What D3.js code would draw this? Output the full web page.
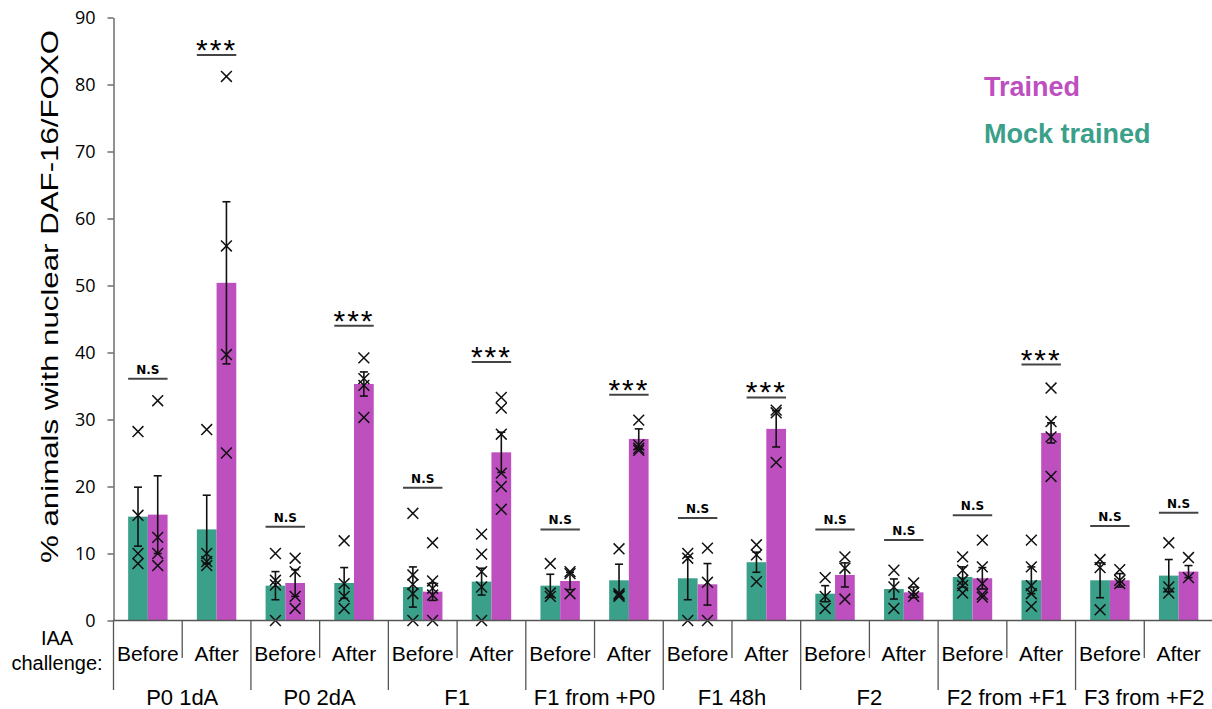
<!DOCTYPE html>
<html>
<head>
<meta charset="utf-8">
<script src="https://cdn.jsdelivr.net/npm/d3@7"></script>
<style>
    body { margin: 0; background: #fff; }
    svg text { font-family: "Liberation Sans", Arial, sans-serif; fill: #000; }
</style>
</head>
<body>
<svg id="chart"></svg>
<script>
// Groups (generations) and IAA challenge phase within each group
const groups = ['P0 1dA', 'P0 2dA', 'F1', 'F1 from +P0', 'F1 48h', 'F2', 'F2 from +F1', 'F3 from +F2'];
const phases = ['Before', 'After'];

// Mock trained: mean, error (SE) and individual replicates, one entry per group/phase
const mockMeans = [15.5, 13.6, 5.2, 5.6, 5.0, 5.8, 5.2, 6.0, 6.3, 8.7, 4.0, 4.7, 6.5, 6.0, 6.0, 6.7];
const mockErr   = [4.4, 5.1, 2.1, 2.3, 3.0, 2.0, 1.7, 2.4, 3.2, 1.5, 1.2, 1.5, 1.5, 2.0, 2.6, 2.4];
const mockPoints = [
    [28.2, 15.7, 10.0, 8.5], [28.5, 10.0, 8.8, 8.2],
    [10.0, 6.0, 5.3, 0], [11.9, 5.5, 3.6, 1.8],
    [16.0, 6.8, 5.4, 4.0, 0], [12.9, 9.9, 7.3, 5.0, 0],
    [8.5, 4.1, 3.6], [10.7, 4.0, 3.8, 3.6],
    [10.0, 9.3, 0], [11.3, 9.8, 5.8],
    [6.4, 3.6, 1.8], [7.5, 5.0, 1.8],
    [9.5, 7.5, 6.0, 5.2, 4.1], [12.0, 8.0, 5.2, 4.0, 2.1],
    [9.1, 7.9, 1.6], [11.6, 5.0, 4.1]
];

// Trained
const trainedMeans = [15.8, 50.4, 5.6, 35.3, 4.3, 25.1, 5.9, 27.1, 5.4, 28.6, 6.8, 4.2, 6.3, 28.0, 6.0, 7.3];
const trainedErr   = [5.8, 12.1, 2.0, 1.8, 1.3, 3.0, 1.3, 1.5, 3.1, 2.7, 1.8, 0.8, 1.6, 1.5, 1.0, 0.9];
const trainedPoints = [
    [32.8, 12.4, 10.0, 8.2], [81.2, 55.9, 39.7, 25.0],
    [9.3, 7.3, 3.6, 1.8], [39.2, 36.1, 35.1, 30.3],
    [11.6, 5.9, 4.8, 3.8, 0], [33.3, 31.7, 27.8, 22.0, 20.0, 16.6],
    [7.3, 7.0, 4.0], [29.9, 26.2, 25.7, 25.4],
    [10.8, 5.7, 0], [31.4, 31.0, 23.6],
    [9.5, 7.8, 3.2], [5.6, 4.2, 3.6],
    [12.0, 8.0, 5.5, 3.9, 3.5], [34.7, 29.7, 27.4, 21.5],
    [7.6, 6.0, 5.5], [9.4, 6.4]
];

// Significance annotations and the level (in %) of their bar
const sigLabels = ['N.S', '***', 'N.S', '***', 'N.S', '***', 'N.S', '***', 'N.S', '***', 'N.S', 'N.S', 'N.S', '***', 'N.S', 'N.S'];
const sigLevels = [36.1, 84.4, 14.0, 44.0, 19.8, 38.6, 13.6, 33.7, 15.3, 33.3, 13.6, 12.0, 15.7, 38.2, 14.1, 16.1];

const yTicks = [0, 10, 20, 30, 40, 50, 60, 70, 80, 90];
const series = ['Mock trained', 'Trained'];
const seriesColors = ['#3aa08a', '#be4fbf'];

class GroupedBarChart {
    constructor(_config) {
        this.config = {
            parentElement: _config.parentElement,
            containerWidth: _config.containerWidth || 1212,
            containerHeight: _config.containerHeight || 709,
            margin: { top: 17.5, bottom: 88.5, right: -1, left: 113.5 }
        }
        this.initVis();
    }

    initVis() {
        let vis = this;

        vis.width = vis.config.containerWidth - vis.config.margin.left - vis.config.margin.right;
        vis.height = vis.config.containerHeight - vis.config.margin.top - vis.config.margin.bottom;

        vis.svg = d3.select(vis.config.parentElement)
            .attr('width', vis.config.containerWidth)
            .attr('height', vis.config.containerHeight);

        vis.chart = vis.svg.append('g')
            .attr('transform', `translate(${vis.config.margin.left},${vis.config.margin.top})`);

        // one band per group/phase pair
        vis.categories = [];
        groups.forEach(g => phases.forEach(p => vis.categories.push({ group: g, phase: p })));
        vis.catKey = d => `${d.group}|${d.phase}`;

        vis.xScale = d3.scaleBand()
            .domain(vis.categories.map(vis.catKey))
            .range([0, vis.width]);

        vis.xSub = d3.scaleBand()
            .domain(series)
            .range([0, vis.xScale.bandwidth()])
            .paddingOuter(0.743);

        vis.yScale = d3.scaleLinear()
            .domain([0, 90])
            .range([vis.height, 0]);

        vis.colorScale = d3.scaleOrdinal().domain(series).range(seriesColors);
    }

    updateVis() {
        let vis = this;

        vis.rows = vis.categories.map((c, i) => ({
            key: vis.catKey(c),
            phase: c.phase,
            sig: sigLabels[i],
            sigLevel: sigLevels[i],
            bars: [
                { s: 'Mock trained', mean: mockMeans[i], err: mockErr[i], pts: mockPoints[i] },
                { s: 'Trained', mean: trainedMeans[i], err: trainedErr[i], pts: trainedPoints[i] }
            ]
        }));

        vis.renderVis();
    }

    renderVis() {
        let vis = this;
        const bw = vis.xSub.bandwidth();

        // Y axis
        const yAxis = d3.axisLeft(vis.yScale)
            .tickValues(yTicks)
            .tickSize(6)
            .tickSizeOuter(0)
            .tickPadding(12);
        const yAxisG = vis.chart.append('g').attr('class', 'axis y-axis').call(yAxis);
        yAxisG.select('.domain').attr('stroke', '#555').attr('stroke-width', 1.3);
        yAxisG.selectAll('.tick line').attr('stroke', '#555').attr('stroke-width', 1.3);
        yAxisG.selectAll('.tick text')
            .style('font-family', '"Open Sans", sans-serif')
            .attr('font-size', 18)
            .attr('fill', '#222');

        // y axis title (the original is horizontally stretched)
        vis.svg.append('text')
            .attr('transform', `translate(58,${(563 + 30) / 2}) rotate(-90)`)
            .attr('text-anchor', 'middle')
            .attr('font-size', 24)
            .attr('textLength', 533)
            .attr('lengthAdjust', 'spacingAndGlyphs')
            .text('% animals with nuclear DAF-16/FOXO');

        // Bars
        const cat = vis.chart.selectAll('.cat')
            .data(vis.rows)
            .join('g')
            .attr('class', 'cat')
            .attr('transform', d => `translate(${vis.xScale(d.key)},0)`);

        cat.selectAll('.bar')
            .data(d => d.bars)
            .join('rect')
            .attr('class', 'bar')
            .attr('x', d => vis.xSub(d.s))
            .attr('width', bw)
            .attr('y', d => vis.yScale(d.mean))
            .attr('height', d => vis.height - vis.yScale(d.mean))
            .attr('fill', d => vis.colorScale(d.s));

        // Error bars
        const eb = cat.selectAll('.err')
            .data(d => d.bars)
            .join('g')
            .attr('class', 'err')
            .attr('stroke', '#111')
            .attr('stroke-width', 1.6);
        eb.append('line')
            .attr('x1', d => vis.xSub(d.s) + bw / 2).attr('x2', d => vis.xSub(d.s) + bw / 2)
            .attr('y1', d => vis.yScale(d.mean - d.err)).attr('y2', d => vis.yScale(d.mean + d.err));
        eb.append('line')
            .attr('x1', d => vis.xSub(d.s) + bw / 2 - 4).attr('x2', d => vis.xSub(d.s) + bw / 2 + 4)
            .attr('y1', d => vis.yScale(d.mean + d.err)).attr('y2', d => vis.yScale(d.mean + d.err));
        eb.append('line')
            .attr('x1', d => vis.xSub(d.s) + bw / 2 - 4).attr('x2', d => vis.xSub(d.s) + bw / 2 + 4)
            .attr('y1', d => vis.yScale(d.mean - d.err)).attr('y2', d => vis.yScale(d.mean - d.err));

        // Individual replicates as x markers
        const cross = d3.symbol().type(d3.symbolX).size(78);
        cat.selectAll('.pts')
            .data(d => d.bars)
            .join('g')
            .attr('class', 'pts')
            .selectAll('path')
            .data(d => d.pts.map(v => ({ s: d.s, v: v })))
            .join('path')
            .attr('d', cross)
            .attr('transform', d => `translate(${vis.xSub(d.s) + bw / 2},${vis.yScale(d.v)})`)
            .attr('fill', 'none')
            .attr('stroke', '#111')
            .attr('stroke-width', 1.5);

        // Significance bars
        cat.append('line')
            .attr('x1', vis.xSub('Mock trained'))
            .attr('x2', vis.xSub('Trained') + bw)
            .attr('y1', d => vis.yScale(d.sigLevel))
            .attr('y2', d => vis.yScale(d.sigLevel))
            .attr('stroke', '#444')
            .attr('stroke-width', 2);
        cat.append('text')
            .attr('x', vis.xScale.bandwidth() / 2)
            .attr('y', d => vis.yScale(d.sigLevel) + (d.sig === '***' ? 5 : -5))
            .attr('text-anchor', 'middle')
            .style('font-family', d => d.sig === '***' ? '"Liberation Sans", Arial, sans-serif' : '"DejaVu Sans", Verdana, sans-serif')
            .attr('font-weight', d => d.sig === '***' ? 'normal' : 'bold')
            .attr('font-size', d => d.sig === '***' ? 30 : 12)
            .attr('letter-spacing', d => d.sig === '***' ? 2 : 0)
            .attr('fill', '#222')
            .text(d => d.sig);

        // X axis line
        vis.chart.append('line')
            .attr('x1', 0).attr('x2', vis.width)
            .attr('y1', vis.height).attr('y2', vis.height)
            .attr('stroke', '#555').attr('stroke-width', 1.3);

        // Dividers: short between phases, long between groups
        const bounds = d3.range(vis.categories.length).map(i => ({ i: i, x: vis.xScale(vis.catKey(vis.categories[i])) }));
        vis.chart.selectAll('.divider')
            .data(bounds)
            .join('line')
            .attr('class', 'divider')
            .attr('x1', d => d.x).attr('x2', d => d.x)
            .attr('y1', vis.height)
            .attr('y2', d => vis.height + (d.i % 2 === 0 ? 69.5 : 37.5))
            .attr('stroke', '#555').attr('stroke-width', 1.3);

        // Phase labels
        cat.append('text')
            .attr('x', vis.xScale.bandwidth() / 2)
            .attr('y', vis.height + 40.5)
            .attr('text-anchor', 'middle')
            .attr('font-size', 21)
            .text(d => d.phase);

        // Group labels
        vis.chart.selectAll('.group-label')
            .data(groups)
            .join('text')
            .attr('class', 'group-label')
            .attr('x', g => vis.xScale(`${g}|Before`) + vis.xScale.bandwidth())
            .attr('y', vis.height + 84)
            .attr('text-anchor', 'middle')
            .attr('font-size', 22)
            .text(g => g);

        // "IAA challenge:" row header
        const hdr = vis.svg.append('text')
            .attr('text-anchor', 'middle')
            .attr('font-size', 20);
        hdr.append('tspan').attr('x', 57).attr('y', 645).text('IAA');
        hdr.append('tspan').attr('x', 57).attr('y', 670).text('challenge:');

        // Legend
        const legend = vis.svg.append('g')
            .attr('font-size', 27)
            .attr('font-weight', 'bold');
        legend.selectAll('text')
            .data(['Trained', 'Mock trained'])
            .join('text')
            .attr('x', 984)
            .attr('y', (d, i) => 96 + i * 47)
            .style('fill', d => vis.colorScale(d))
            .text(d => d);
    }
}

const chart = new GroupedBarChart({ parentElement: '#chart', containerWidth: 1212, containerHeight: 709 });
chart.updateVis();
</script>
</body>
</html>
